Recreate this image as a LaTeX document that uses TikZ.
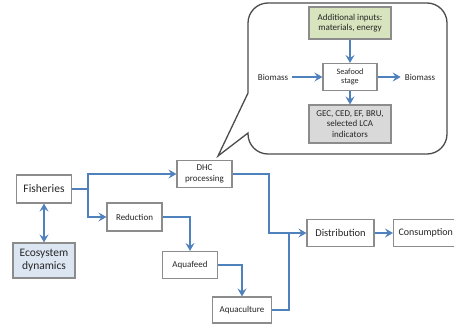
\documentclass[tikz,border=0pt]{standalone}
\usepackage{fontspec}
\setmainfont{Carlito}
\usetikzlibrary{arrows.meta}
\definecolor{arrblue}{HTML}{4F81BD}
\definecolor{boxgray}{HTML}{8C8C8C}
\definecolor{txtgray}{HTML}{262626}
\definecolor{ecofill}{HTML}{DCE6F2}
\definecolor{addfill}{HTML}{D7E4BD}
\definecolor{gecfill}{HTML}{D9D9D9}
\tikzset{
  box/.style={draw=boxgray, line width=1.1pt, fill=white, text=txtgray, align=center, inner sep=1pt},
  bigtxt/.style={font=\fontsize{11.5}{13}\selectfont},
  midtxt/.style={font=\fontsize{10.5}{12}\selectfont},
  smalltxt/.style={font=\fontsize{9}{10.5}\selectfont},
  tinytxt/.style={font=\fontsize{8.2}{9.6}\selectfont},
  bluetip/.tip={Stealth[length=8pt,width=9pt,inset=3pt]},
  flow/.style={draw=arrblue, line width=2pt, arrows={-bluetip}},
  flowline/.style={draw=arrblue, line width=2pt},
  bubble/.style={draw=black!70, line width=1.3pt, fill=white},
}
\begin{document}
\begin{tikzpicture}[x=1pt, y=-1pt]
\useasboundingbox (0,0) rectangle (454,324);
% callout bubble
\draw[bubble] (248,93) -- (218,156) -- (248,133) [rounded corners=20pt] -- (248,154) -- (447,154) -- (447,3) -- (248,3) -- (248,93);
% main boxes
\node[box, bigtxt, minimum width=55pt, minimum height=28pt] (fish) at (44,189) {Fisheries};
\node[box, bigtxt, fill=ecofill, minimum width=62pt, minimum height=35pt] (eco) at (44,260.5) {Ecosystem\\dynamics};
\node[box, smalltxt, minimum width=55pt, minimum height=27pt] (dhc) at (204.5,174) {DHC\\processing};
\node[box, smalltxt, minimum width=55pt, minimum height=28pt] (red) at (134.5,217) {Reduction};
\node[box, smalltxt, minimum width=55pt, minimum height=27pt] (feed) at (190,265) {Aquafeed};
\node[box, smalltxt, minimum width=59pt, minimum height=26pt] (aqua) at (242,310) {Aquaculture};
\node[box, midtxt, minimum width=67pt, minimum height=27pt] (dist) at (340.5,233) {Distribution};
\node[box, font=\fontsize{10}{12}\selectfont, minimum width=72pt, minimum height=27pt, text width=62pt, align=left, inner xsep=4pt, anchor=west] (cons) at (393,233) {Consumption};
% callout contents
\node[box, smalltxt, fill=addfill, minimum width=82pt, minimum height=32pt] (add) at (350,23) {Additional inputs:\\materials, energy};
\node[box, tinytxt, minimum width=54pt, minimum height=27pt] (sea) at (350,77) {Seafood\\stage};
\node[box, smalltxt, fill=gecfill, minimum width=82pt, minimum height=38pt] (gec) at (350,124) {GEC, CED, EF, BRU,\\selected LCA\\indicators};
\node[smalltxt, text=txtgray, inner sep=1pt] (bin) at (273,77) {Biomass};
\node[smalltxt, text=txtgray, inner sep=1pt] (bout) at (420,77) {Biomass};
% callout arrows
\draw[flow] ([xshift=3pt]bin.east) -- (sea.west);
\draw[flow] (sea.east) -- ([xshift=-3pt]bout.west);
\draw[flow] (add.south) -- (sea.north);
\draw[flow] (sea.south) -- (gec.north);
% main connectors
\coordinate (j1) at (88,189);
\draw[flowline] (fish.east) -- (j1);
\draw[flow] (j1) |- (dhc.west);
\draw[flow] (j1) |- (red.west);
\draw[flow] (red.east) -| (feed.north);
\draw[flow] (feed.east) -| (aqua.north);
\coordinate (j2) at (269,233);
\coordinate (j3) at (289,233);
\draw[flow] (dhc.east) -| (j2) -- (dist.west);
\draw[flowline] (aqua.east) -| (j3);
\draw[flow] (dist.east) -- (cons.west);
\draw[flow, arrows={bluetip-bluetip}] (fish.south) -- (eco.north);
\end{tikzpicture}
\end{document}
